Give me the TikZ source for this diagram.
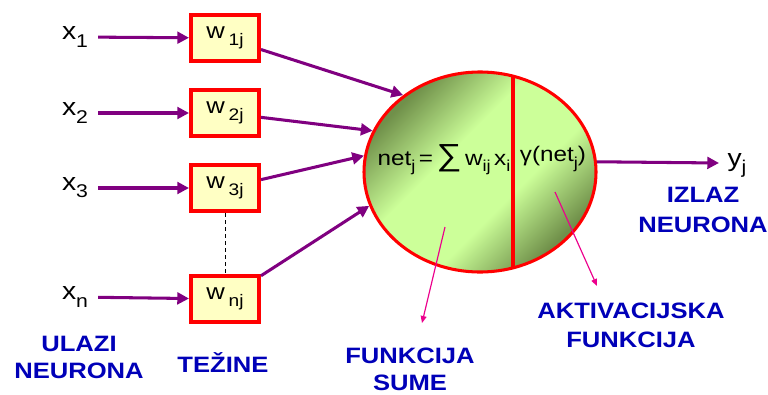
\documentclass[tikz,border=0pt]{standalone}
\usepackage{fontspec}
\usepackage{graphicx}
\setmainfont[FakeStretch=1.15]{Liberation Sans}
\usetikzlibrary{shapes.geometric,arrows.meta}
\definecolor{ljub}{HTML}{800080}
\definecolor{plava}{HTML}{0000B8}
\definecolor{zuta}{HTML}{FFFFC4}
\definecolor{svijetla}{HTML}{CCFF99}
\definecolor{tamna}{HTML}{70904A}
\pgfdeclareverticalshading{neuronsjena}{100bp}{color(0bp)=(tamna); color(26bp)=(tamna); color(41bp)=(svijetla); color(58bp)=(svijetla); color(74bp)=(tamna); color(100bp)=(tamna)}
\newcommand{\ind}[1]{\raisebox{-0.55ex}{\scalebox{0.75}{#1}}}
\begin{document}
\begin{tikzpicture}[x=0.03cm, y=-0.03cm,
    every node/.style={inner sep=.5mm},
    tez/.style={draw=red, line width=3.4pt, fill=zuta, minimum width=2.04cm, minimum height=1.38cm, font=\fontsize{19}{20}\selectfont},
    ulaz/.style={font=\fontsize{21}{22}\selectfont},
    natpis/.style={text=plava, align=center, font=\bfseries\fontsize{19}{23}\selectfont},
    veza/.style={ljub, line width=2.6pt, -{Triangle[length=10pt,width=10pt]}},
    strel/.style={magenta, line width=1pt, -{Triangle[length=6pt,width=5pt]}}]
  \useasboundingbox (0,0) rectangle (768,394);
  % ulazi i tezine
  \node [ulaz] (x1) at (75,37) {x\ind{1}};
  \node [ulaz] (x2) at (75,113) {x\ind{2}};
  \node [ulaz] (x3) at (75,188) {x\ind{3}};
  \node [ulaz] (xn) at (75,297) {x\ind{n}};
  \node [tez] (w1) at (225,38) {w\,\ind{1j}};
  \node [tez] (w2) at (225,113) {w\,\ind{2j}};
  \node [tez] (w3) at (225,188) {w\,\ind{3j}};
  \node [tez] (wn) at (225,299) {w\,\ind{nj}};
  \draw [veza, shorten <=7pt] (x1) -- (w1);
  \draw [veza, shorten <=7pt] (x2) -- (w2);
  \draw [veza, shorten <=7pt] (x3) -- (w3);
  \draw [veza, shorten <=7pt] (xn) -- (wn);
  \draw [dashed] (w3) -- (wn);
  % neuron
  \node [ellipse, draw=red, line width=2.6pt, minimum width=6.96cm, minimum height=6cm,
         shading=neuronsjena, shading angle=45] (neuron) at (480,172) {};
  \draw [red, line width=3.4pt] (513,75) -- (513,269);
  \node (suma) at (444,160) {\fontsize{18}{18}\selectfont net\ind{j}\,=\,{\fontsize{26}{26}\selectfont ∑}\,w\ind{ij}\,x\ind{i}};
  \node (gama) at (553,159) {\fontsize{18}{18}\selectfont γ(net\ind{j})};
  \draw [veza] (w1) -- (neuron.135);
  \draw [veza] (w2) -- (neuron.159);
  \draw [veza] (w3) -- (neuron.172);
  \draw [veza] (wn) -- (neuron.197);
  % izlaz
  \node [ulaz] (yj) at (737,165) {y\ind{j}};
  \coordinate (kraj) at (719,163);
  \draw [veza] (neuron.5) -- (kraj);
  % natpisi
  \node [natpis] (ulazi) at (79,357) {ULAZI\\NEURONA};
  \node [natpis] (tezine) at (223,363) {TEŽINE};
  \node [natpis] (fsume) at (410,369) {FUNKCIJA\\SUME};
  \node [natpis, font=\bfseries\fontsize{19}{25}\selectfont] (fakt) at (631,325) {AKTIVACIJSKA\\FUNKCIJA};
  \node [natpis, font=\bfseries\fontsize{19}{25}\selectfont] (izl) at (703,210) {IZLAZ\\NEURONA};
  \coordinate (m1) at (445,227);
  \coordinate (m2) at (422,323);
  \coordinate (m3) at (555,192);
  \coordinate (m4) at (597,286);
  \draw [strel] (m1) -- (m2);
  \draw [strel] (m3) -- (m4);
\end{tikzpicture}
\end{document}
